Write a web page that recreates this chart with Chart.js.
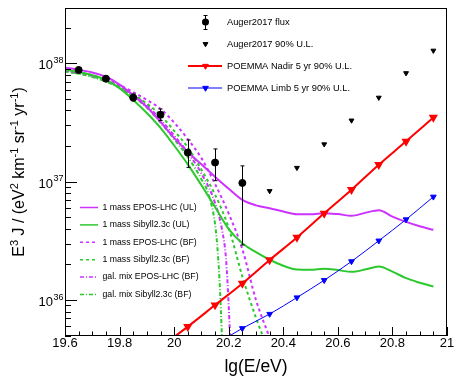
<!DOCTYPE html>
<html lang="en">
<head>
    <meta charset="UTF-8">
    <title>UHE flux vs POEMMA sensitivity</title>
    <script src="https://cdn.jsdelivr.net/npm/chart.js"></script>
    <style>
        body { margin: 0; background: #ffffff; }
        #wrap { width: 466px; height: 382px; }
    </style>
</head>
<body>
<div id="wrap"><canvas id="fluxChart" width="466" height="382"></canvas></div>
<script>
const FONT = "'Liberation Sans', Arial, Helvetica, sans-serif";
const MAGENTA = '#cc33ff';
const GREEN = '#2dc82d';

// Auger 2017 flux points (E^3 J) and error bar ends
const augerX = [19.65, 19.75, 19.85, 19.95, 20.05, 20.15, 20.25];
const augerFlux = [8.78e37, 7.41e37, 5.13e37, 3.68e37, 1.76e37, 1.45e37, 9.75e36];
const augerLow = [8.45e37, 7.15e37, 4.80e37, 3.28e37, 1.32e37, 1.02e37, 2.92e36];
const augerHigh = [9.10e37, 7.65e37, 5.50e37, 4.11e37, 2.25e37, 1.89e37, 1.36e37];

// Auger 2017 90% upper limits
const ulX = [20.35, 20.45, 20.55, 20.65, 20.75, 20.85, 20.95];
const augerUL = [8.34e36, 1.31e37, 2.07e37, 3.29e37, 5.13e37, 8.26e37, 1.28e38];

// POEMMA 5 yr 90% upper limits
const nadirX = [19.95, 20.05, 20.15, 20.25, 20.35, 20.45, 20.55, 20.65, 20.75, 20.85, 20.95];
const nadirUL = [4.0e35, 5.96e35, 9.07e35, 1.38e36, 2.18e36, 3.38e36, 5.4e36, 8.55e36, 1.39e37, 2.19e37, 3.49e37];
const limbX = [20.15, 20.25, 20.35, 20.45, 20.55, 20.65, 20.75, 20.85, 20.95];
const limbUL = [4.2e35, 5.77e35, 7.62e35, 1.05e36, 1.47e36, 2.12e36, 3.17e36, 4.79e36, 7.45e36];

// model curves, UL fits
const modelX = [19.6, 19.65, 19.7, 19.75, 19.8, 19.85, 19.9, 19.95, 20.0, 20.05, 20.1, 20.15, 20.2, 20.25,
                20.3, 20.35, 20.4, 20.45, 20.5, 20.55, 20.6, 20.65, 20.7, 20.75, 20.8, 20.85, 20.9, 20.95];
const eposUL = [9.18e37, 8.81e37, 8.36e37, 7.69e37, 6.61e37, 5.37e37, 4.27e37, 3.20e37, 2.34e37, 1.78e37,
                1.40e37, 1.10e37, 8.71e36, 7.01e36, 6.31e36, 5.97e36, 5.60e36, 5.31e36, 5.30e36, 5.42e36,
                5.32e36, 5.15e36, 5.45e36, 5.73e36, 5.07e36, 4.57e36, 4.20e36, 3.92e36];
const sibyllUL = [8.77e37, 8.45e37, 7.94e37, 7.23e37, 6.17e37, 4.90e37, 3.80e37, 2.85e37, 2.02e37, 1.40e37,
                  9.33e36, 6.10e36, 3.98e36, 3.02e36, 2.54e36, 2.19e36, 1.95e36, 1.81e36, 1.80e36, 1.84e36,
                  1.79e36, 1.73e36, 1.81e36, 1.92e36, 1.74e36, 1.53e36, 1.40e36, 1.30e36];

// model curves, best fits
const eposBFX = [19.6, 19.7, 19.8, 19.9, 19.95, 20.0, 20.05, 20.1, 20.15, 20.2, 20.25, 20.3, 20.35, 20.4];
const eposBF = [8.71e37, 7.94e37, 6.53e37, 4.90e37, 4.12e37, 3.16e37, 2.29e37, 1.58e37, 9.55e36, 5.37e36,
                2.69e36, 1.0e36, 4.79e35, 2.24e35];
const sibyllBFX = [19.6, 19.7, 19.8, 19.9, 19.95, 20.0, 20.05, 20.1, 20.15, 20.2, 20.25, 20.3, 20.35];
const sibyllBF = [8.51e37, 7.76e37, 6.31e37, 4.57e37, 3.63e37, 2.69e37, 1.95e37, 1.26e37, 7.76e36, 4.07e36,
                  1.58e36, 7.08e35, 3.55e35];
const galEposX = [19.6, 19.7, 19.8, 19.9, 19.95, 20.0, 20.05, 20.1, 20.15, 20.175, 20.19, 20.2, 20.21];
const galEpos = [8.71e37, 7.85e37, 6.31e37, 4.42e37, 3.35e37, 2.45e37, 1.76e37, 1.17e37, 6.61e36, 3.98e36,
                 2.24e36, 8.91e35, 2.51e35];
const galSibyllX = [19.6, 19.7, 19.8, 19.9, 19.95, 20.0, 20.05, 20.1, 20.125, 20.15, 20.16, 20.168, 20.18];
const galSibyll = [8.61e37, 7.67e37, 6.17e37, 4.22e37, 3.16e37, 2.29e37, 1.62e37, 1.05e37, 7.94e36, 4.37e36,
                   2.51e36, 1.22e36, 2.51e35];

const xTickLabels = ['19.6', '19.8', '20', '20.2', '20.4', '20.6', '20.8', '21'];
const yDecades = [36, 37, 38];

function pairs(xs, ys) {
    return xs.map((x, i) => ({ x: x, y: ys[i] }));
}

function curve(label, xs, ys, color, dash) {
    return {
        label: label, data: pairs(xs, ys), borderColor: color, borderWidth: 2,
        borderDash: dash, pointRadius: 0, fill: false, cubicInterpolationMode: 'monotone'
    };
}

const legendTop = [
    { text: 'Auger2017 flux', kind: 'flux' },
    { text: 'Auger2017 90% U.L.', kind: 'ul' },
    { text: 'POEMMA Nadir 5 yr 90% U.L.', kind: 'line', color: '#ff0000', width: 2 },
    { text: 'POEMMA Limb 5 yr 90% U.L.', kind: 'line', color: '#0000ff', width: 1 }
];
const legendModels = [
    { text: '1 mass EPOS-LHC (UL)', color: MAGENTA, dash: [] },
    { text: '1 mass Sibyll2.3c (UL)', color: GREEN, dash: [] },
    { text: '1 mass EPOS-LHC (BF)', color: MAGENTA, dash: [3, 3] },
    { text: '1 mass Sibyll2.3c (BF)', color: GREEN, dash: [3, 3] },
    { text: 'gal. mix EPOS-LHC (BF)', color: MAGENTA, dash: [4, 2, 1, 2] },
    { text: 'gal. mix Sibyll2.3c (BF)', color: GREEN, dash: [4, 2, 1, 2] }
];

function downTriangle(ctx, x, y, r, color) {
    ctx.fillStyle = color;
    ctx.strokeStyle = color;
    ctx.lineWidth = 1;
    Chart.helpers.drawPoint(ctx, { pointStyle: 'triangle', radius: r, rotation: 180, borderWidth: 1 }, x, y);
}

// ROOT-like frame: inward ticks, 10^n labels, titles, legends
const rootStyle = {
    id: 'rootStyle',
    afterDatasetsDraw(chart) {
        const ctx = chart.ctx, a = chart.chartArea;
        const sx = chart.scales.x, sy = chart.scales.y;
        ctx.save();
        ctx.strokeStyle = '#000';
        ctx.lineWidth = 1;
        ctx.setLineDash([]);

        // error bars on the flux points
        ctx.beginPath();
        augerX.forEach((v, i) => {
            const px = Math.round(sx.getPixelForValue(v)) + 0.5;
            const top = sy.getPixelForValue(augerHigh[i]);
            const bot = sy.getPixelForValue(augerLow[i]);
            ctx.moveTo(px, top); ctx.lineTo(px, bot);
            ctx.moveTo(px - 2, top); ctx.lineTo(px + 2, top);
            ctx.moveTo(px - 2, bot); ctx.lineTo(px + 2, bot);
        });
        ctx.stroke();

        ctx.strokeRect(a.left + 0.5, a.top + 0.5, a.right - a.left - 1, a.bottom - a.top - 1);

        ctx.beginPath();
        for (let k = 0; k <= 28; k++) {
            const px = Math.round(sx.getPixelForValue(19.6 + k * 0.05)) + 0.5;
            ctx.moveTo(px, a.bottom);
            ctx.lineTo(px, a.bottom - (k % 4 === 0 ? 9 : 4.5));
        }
        for (let d = 35; d <= 38; d++) {
            for (let m = 1; m <= 9; m++) {
                const v = m * Math.pow(10, d);
                if (v < sy.min || v > sy.max) continue;
                const py = Math.round(sy.getPixelForValue(v)) + 0.5;
                ctx.moveTo(a.left, py);
                ctx.lineTo(a.left + (m === 1 ? 12 : 6), py);
            }
        }
        ctx.stroke();
        ctx.restore();
    },
    afterDraw(chart) {
        const ctx = chart.ctx, a = chart.chartArea;
        const sy = chart.scales.y;
        ctx.save();
        ctx.fillStyle = '#000';

        // y tick labels 10^n
        yDecades.forEach(d => {
            const py = sy.getPixelForValue(Math.pow(10, d));
            ctx.font = '13px ' + FONT;
            ctx.textAlign = 'right';
            ctx.textBaseline = 'middle';
            ctx.fillText('10', 53, py + 2.5);
            ctx.font = '9px ' + FONT;
            ctx.textAlign = 'left';
            ctx.fillText(String(d), 53.5, py - 3);
        });

        // x title
        ctx.font = '17.5px ' + FONT;
        ctx.textAlign = 'center';
        ctx.textBaseline = 'alphabetic';
        ctx.fillText('lg(E/eV)', (a.left + a.right) / 2, 372);

        // y title with superscripts
        const parts = [['E', 0], ['3', 1], [' J / (eV', 0], ['2', 1], [' km', 0], ['-1', 1],
                       [' sr', 0], ['-1', 1], [' yr', 0], ['-1', 1], [')', 0]];
        const baseFont = '16px ' + FONT, supFont = '11px ' + FONT;
        let total = 0;
        parts.forEach(p => { ctx.font = p[1] ? supFont : baseFont; total += ctx.measureText(p[0]).width; });
        ctx.translate(24, (a.top + a.bottom) / 2);
        ctx.rotate(-Math.PI / 2);
        ctx.textAlign = 'left';
        let pos = -total / 2;
        parts.forEach(p => {
            ctx.font = p[1] ? supFont : baseFont;
            ctx.fillText(p[0], pos, p[1] ? -6.5 : 0);
            pos += ctx.measureText(p[0]).width;
        });
        ctx.setTransform(1, 0, 0, 1, 0, 0);

        // top-right legend
        ctx.font = '9.3px ' + FONT;
        ctx.textBaseline = 'middle';
        legendTop.forEach((e, i) => {
            const y = 22 + i * 22;
            if (e.kind === 'flux') {
                ctx.strokeStyle = '#000';
                ctx.lineWidth = 1;
                ctx.beginPath();
                ctx.moveTo(205.5, 15.5); ctx.lineTo(205.5, 29.5);
                ctx.moveTo(203.5, 15.5); ctx.lineTo(207.5, 15.5);
                ctx.moveTo(203.5, 29.5); ctx.lineTo(207.5, 29.5);
                ctx.stroke();
                ctx.beginPath();
                ctx.arc(205.5, y, 3.5, 0, Math.PI * 2);
                ctx.fill();
            } else if (e.kind === 'ul') {
                downTriangle(ctx, 205.5, y, 2.8, '#000');
            } else {
                ctx.strokeStyle = e.color;
                ctx.lineWidth = e.width;
                ctx.beginPath();
                ctx.moveTo(188, y); ctx.lineTo(222, y);
                ctx.stroke();
                downTriangle(ctx, 205.5, y, 3.3, e.color);
            }
            ctx.fillStyle = '#000';
            ctx.textAlign = 'left';
            ctx.fillText(e.text, 227, y);
        });

        // model legend
        ctx.font = '8.7px ' + FONT;
        legendModels.forEach((e, i) => {
            const y = 207.5 + i * 17.4;
            ctx.strokeStyle = e.color;
            ctx.lineWidth = 1.5;
            ctx.setLineDash(e.dash);
            ctx.beginPath();
            ctx.moveTo(80, y); ctx.lineTo(98, y);
            ctx.stroke();
            ctx.setLineDash([]);
            ctx.fillStyle = '#000';
            ctx.fillText(e.text, 102.5, y);
        });
        ctx.restore();
    }
};

new Chart(document.getElementById('fluxChart'), {
    type: 'line',
    data: {
        datasets: [
            { label: 'Auger2017 flux', data: pairs(augerX, augerFlux), showLine: false,
              pointRadius: 3.5, pointBackgroundColor: '#000', pointBorderColor: '#000', borderColor: '#000' },
            { label: 'Auger2017 90% U.L.', data: pairs(ulX, augerUL), showLine: false,
              pointStyle: 'triangle', rotation: 180, pointRadius: 2.8,
              pointBackgroundColor: '#000', pointBorderColor: '#000', borderColor: '#000' },
            { label: 'POEMMA Nadir 5 yr 90% U.L.', data: pairs(nadirX, nadirUL), borderColor: '#ff0000',
              borderWidth: 2, pointStyle: 'triangle', rotation: 180, pointRadius: 3.3,
              pointBackgroundColor: '#ff0000', pointBorderColor: '#ff0000', cubicInterpolationMode: 'monotone' },
            { label: 'POEMMA Limb 5 yr 90% U.L.', data: pairs(limbX, limbUL), borderColor: '#0000ff',
              borderWidth: 1, pointStyle: 'triangle', rotation: 180, pointRadius: 3.3,
              pointBackgroundColor: '#0000ff', pointBorderColor: '#0000ff', cubicInterpolationMode: 'monotone' },
            curve('1 mass EPOS-LHC (UL)', modelX, eposUL, MAGENTA, []),
            curve('1 mass Sibyll2.3c (UL)', modelX, sibyllUL, GREEN, []),
            curve('1 mass EPOS-LHC (BF)', eposBFX, eposBF, MAGENTA, [3, 3]),
            curve('1 mass Sibyll2.3c (BF)', sibyllBFX, sibyllBF, GREEN, [3, 3]),
            curve('gal. mix EPOS-LHC (BF)', galEposX, galEpos, MAGENTA, [4, 2, 1, 2]),
            curve('gal. mix Sibyll2.3c (BF)', galSibyllX, galSibyll, GREEN, [4, 2, 1, 2])
        ]
    },
    options: {
        responsive: false,
        animation: false,
        layout: { padding: { left: 0, right: 19, top: 8, bottom: 0 } },
        plugins: { legend: { display: false }, tooltip: { enabled: false } },
        scales: {
            x: {
                type: 'linear', min: 19.6, max: 21,
                grid: { display: false, drawTicks: false }, border: { display: false },
                ticks: {
                    stepSize: 0.2, color: '#000', padding: 0, maxRotation: 0, autoSkip: false,
                    font: { family: FONT, size: 13 },
                    callback: (v, i) => xTickLabels[i]
                },
                afterFit: s => { s.height = 46; }
            },
            y: {
                type: 'logarithmic', min: 4.97e35, max: 2.93e38,
                grid: { display: false, drawTicks: false }, border: { display: false },
                ticks: { display: false },
                afterFit: s => { s.width = 65; }
            }
        }
    },
    plugins: [rootStyle]
});
</script>
</body>
</html>
